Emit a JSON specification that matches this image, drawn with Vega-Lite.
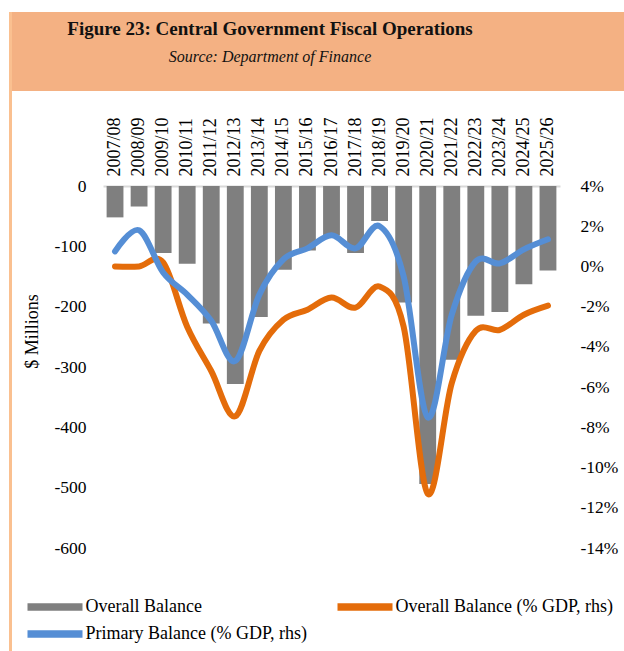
{
  "$schema": "https://vega.github.io/schema/vega-lite/v6.json",
  "background": "white",
  "padding": {"left": 9, "top": 12, "right": 0, "bottom": 0},
  "spacing": 0,
  "config": {
    "font": "Liberation Serif",
    "view": {"stroke": null},
    "axis": {"labelColor": "#000000", "titleColor": "#000000", "labelFont": "Liberation Serif", "titleFont": "Liberation Serif"},
    "legend": {"labelColor": "#000000", "labelFont": "Liberation Serif"}
  },
  "datasets": {
    "fiscal": [
      {"year": "2007/08", "balance": -52, "overall_pct": 0.0, "primary_pct": 0.75},
      {"year": "2008/09", "balance": -34, "overall_pct": 0.0, "primary_pct": 1.8},
      {"year": "2009/10", "balance": -111, "overall_pct": 0.2, "primary_pct": -0.3},
      {"year": "2010/11", "balance": -129, "overall_pct": -3.0, "primary_pct": -1.4},
      {"year": "2011/12", "balance": -228, "overall_pct": -5.2, "primary_pct": -2.7},
      {"year": "2012/13", "balance": -328, "overall_pct": -7.45, "primary_pct": -4.7},
      {"year": "2013/14", "balance": -217, "overall_pct": -4.2, "primary_pct": -1.4},
      {"year": "2014/15", "balance": -139, "overall_pct": -2.65, "primary_pct": 0.35},
      {"year": "2015/16", "balance": -107, "overall_pct": -2.15, "primary_pct": 0.9},
      {"year": "2016/17", "balance": -82, "overall_pct": -1.55, "primary_pct": 1.55},
      {"year": "2017/18", "balance": -111, "overall_pct": -2.05, "primary_pct": 0.9},
      {"year": "2018/19", "balance": -58, "overall_pct": -1.0, "primary_pct": 2.0},
      {"year": "2019/20", "balance": -193, "overall_pct": -3.0, "primary_pct": -0.5},
      {"year": "2020/21", "balance": -494, "overall_pct": -11.3, "primary_pct": -7.5},
      {"year": "2021/22", "balance": -288, "overall_pct": -5.8, "primary_pct": -2.4},
      {"year": "2022/23", "balance": -215, "overall_pct": -3.2, "primary_pct": 0.25},
      {"year": "2023/24", "balance": -209, "overall_pct": -3.15, "primary_pct": 0.15},
      {"year": "2024/25", "balance": -163, "overall_pct": -2.4, "primary_pct": 0.85},
      {"year": "2025/26", "balance": -140, "overall_pct": -1.95, "primary_pct": 1.35}
    ]
  },
  "hconcat": [
    {
      "width": 3,
      "height": 639,
      "view": {"fill": "#FAC090", "stroke": null},
      "data": {"values": []},
      "mark": {"type": "point", "opacity": 0},
      "encoding": {}
    },
    {
      "spacing": 0,
      "vconcat": [
        {
          "width": 612,
          "height": 79,
          "view": {"fill": "#F4B183", "stroke": null},
          "layer": [
            {
              "data": {"values": [{"text": "Figure 23: Central Government Fiscal Operations"}]},
              "mark": {"type": "text", "font": "Liberation Serif", "fontSize": 19, "fontWeight": "bold", "color": "#111111", "baseline": "alphabetic", "dx": -48, "dy": -16.5},
              "encoding": {"text": {"field": "text"}}
            },
            {
              "data": {"values": [{"text": "Source: Department of Finance"}]},
              "mark": {"type": "text", "font": "Liberation Serif", "fontSize": 16, "fontStyle": "italic", "color": "#111111", "baseline": "alphabetic", "dx": -48, "dy": 10.5},
              "encoding": {"text": {"field": "text"}}
            }
          ]
        },
        {
          "spacing": 10,
          "hconcat": [
            {
              "width": 1,
              "height": 1,
              "data": {"values": []},
              "mark": {"type": "point", "opacity": 0},
              "encoding": {}
            },
            {
              "width": 457,
              "height": 362,
              "data": {"name": "fiscal"},
              "encoding": {
                "x": {
                  "field": "year",
                  "type": "nominal",
                  "sort": null,
                  "scale": {"paddingInner": 0.3, "paddingOuter": 0.15},
                  "axis": {
                    "orient": "top",
                    "labelAngle": -90,
                    "labelFontSize": 18,
                    "labelPadding": 10,
                    "ticks": false,
                    "domainColor": "#D9D9D9",
                    "domainWidth": 2,
                    "title": " ",
                    "titleFontSize": 10,
                    "titlePadding": 15
                  }
                }
              },
              "layer": [
                {
                  "mark": {"type": "bar"},
                  "encoding": {
                    "y": {
                      "field": "balance",
                      "type": "quantitative",
                      "scale": {"domain": [-600, 0], "nice": false},
                      "axis": {
                        "title": "$ Millions",
                        "titleFontSize": 18,
                        "titleFontWeight": "normal",
                        "titleAngle": -90,
                        "titleAlign": "center",
                        "titleBaseline": "bottom",
                        "titleX": -62,
                        "titleY": 145,
                        "values": [-600, -500, -400, -300, -200, -100, 0],
                        "labelExpr": "(datum.value < 0 ? '-' : '') + abs(datum.value)",
                        "labelFontSize": 17.5,
                        "labelPadding": 17,
                        "ticks": false,
                        "domain": false,
                        "grid": false
                      }
                    },
                    "color": {
                      "datum": "Overall Balance",
                      "type": "nominal",
                      "scale": {
                        "domain": ["Overall Balance", "Overall Balance (% GDP, rhs)", "Primary Balance (% GDP, rhs)"],
                        "range": ["#7F7F7F", "#E46C0A", "#558ED5"]
                      },
                      "legend": {
                        "orient": "none",
                        "direction": "horizontal",
                        "legendX": 35,
                        "legendY": 584,
                        "title": null,
                        "columns": 2,
                        "columnPadding": 30,
                        "rowPadding": 7,
                        "symbolType": "M-2.5,-0.35H2.5V0.35H-2.5Z",
                        "symbolSize": 484,
                        "symbolStrokeWidth": 0,
                        "labelFontSize": 18,
                        "labelOffset": 19.5,
                        "labelLimit": 0,
                        "encode": {
                          "symbols": {
                            "update": {
                              "fill": {"scale": "color", "field": "value"},
                              "stroke": {"value": "transparent"},
                              "opacity": {"value": 1}
                            }
                          }
                        }
                      }
                    }
                  }
                },
                {
                  "layer": [
                    {
                      "mark": {"type": "line", "interpolate": "cardinal", "tension": 0, "strokeWidth": 6, "strokeCap": "round"},
                      "encoding": {
                        "y": {
                          "field": "overall_pct",
                          "type": "quantitative",
                          "scale": {"domain": [-14, 4], "nice": false},
                          "axis": {
                            "orient": "right",
                            "title": null,
                            "values": [-14, -12, -10, -8, -6, -4, -2, 0, 2, 4],
                            "labelExpr": "(datum.value < 0 ? '-' : '') + abs(datum.value) + '%'",
                            "labelFontSize": 17.5,
                            "labelPadding": 20,
                            "ticks": false,
                            "domain": false,
                            "grid": false
                          }
                        },
                        "color": {"datum": "Overall Balance (% GDP, rhs)", "type": "nominal"}
                      }
                    },
                    {
                      "mark": {"type": "line", "interpolate": "cardinal", "tension": 0, "strokeWidth": 6, "strokeCap": "round"},
                      "encoding": {
                        "y": {
                          "field": "primary_pct",
                          "type": "quantitative",
                          "scale": {"domain": [-14, 4], "nice": false}
                        },
                        "color": {"datum": "Primary Balance (% GDP, rhs)", "type": "nominal"}
                      }
                    }
                  ]
                }
              ],
              "resolve": {"scale": {"y": "independent"}}
            }
          ]
        }
      ]
    }
  ]
}
